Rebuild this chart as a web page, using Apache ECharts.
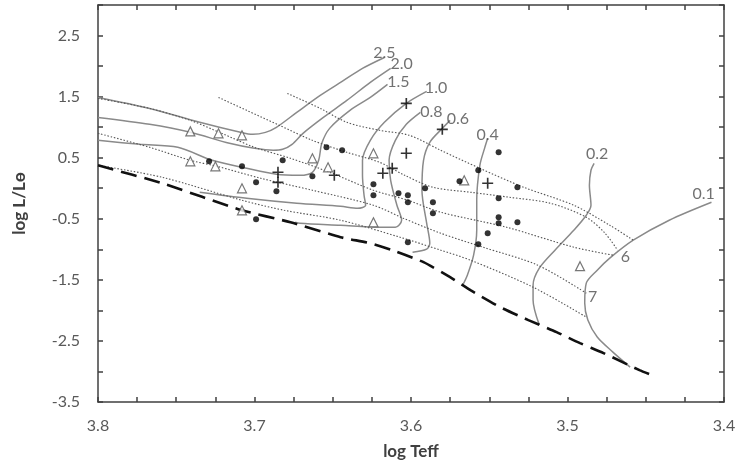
<!DOCTYPE html>
<html><head><meta charset="utf-8">
<script src="https://cdn.jsdelivr.net/npm/echarts@6/dist/echarts.min.js"></script>
<style>html,body{margin:0;padding:0;background:#fff}#c{width:739px;height:465px}</style>
</head><body><div id="c"></div>
<script>
// ---- Evolutionary tracks [log Teff, log L/Lsun] ----
const track25 = [[3.800,1.487],[3.767,1.307],[3.735,1.079],[3.709,0.915],[3.701,0.882],[3.693,0.915],[3.686,0.997],[3.673,1.242],[3.658,1.520],[3.644,1.749],[3.631,1.962],[3.617,2.141]];
const track20 = [[3.800,1.160],[3.767,1.046],[3.741,0.915],[3.716,0.735],[3.700,0.653],[3.688,0.621],[3.682,0.637],[3.676,0.719],[3.669,0.899],[3.656,1.160],[3.641,1.438],[3.626,1.733],[3.613,1.962]];
const track15 = [[3.800,0.784],[3.773,0.719],[3.749,0.670],[3.727,0.457],[3.705,0.326],[3.686,0.228],[3.671,0.212],[3.663,0.261],[3.659,0.457],[3.657,0.735],[3.652,0.980],[3.639,1.275],[3.626,1.487],[3.615,1.700]];
const track10 = [[3.735,-0.066],[3.705,-0.164],[3.673,-0.246],[3.645,-0.295],[3.634,-0.328],[3.629,-0.279],[3.630,-0.115],[3.631,0.212],[3.631,0.457],[3.626,0.784],[3.617,1.079],[3.603,1.389],[3.590,1.585]];
const track08 = [[3.674,-0.557],[3.671,-0.573],[3.645,-0.606],[3.620,-0.638],[3.610,-0.638],[3.606,-0.524],[3.609,-0.279],[3.613,0.130],[3.614,0.457],[3.610,0.784],[3.603,1.046],[3.594,1.242]];
const track06 = [[3.599,-1.047],[3.590,-0.998],[3.588,-0.900],[3.590,-0.573],[3.593,-0.033],[3.592,0.457],[3.588,0.751],[3.580,0.980],[3.575,1.111]];
const track04 = [[3.567,-1.587],[3.564,-1.423],[3.560,-1.096],[3.558,-0.688],[3.558,-0.197],[3.556,0.375],[3.553,0.653],[3.551,0.817]];
const track02 = [[3.518,-2.241],[3.522,-1.832],[3.522,-1.587],[3.518,-1.309],[3.508,-1.014],[3.496,-0.688],[3.488,-0.442],[3.485,-0.279],[3.486,0.048],[3.485,0.294],[3.483,0.408]];
const track01 = [[3.460,-2.928],[3.471,-2.683],[3.481,-2.437],[3.487,-2.159],[3.489,-1.881],[3.488,-1.554],[3.481,-1.342],[3.473,-1.145],[3.458,-0.851],[3.435,-0.524],[3.408,-0.230]];

// ---- ZAMS ----
const zams = [[3.800,0.375],[3.759,0.081],[3.708,-0.361],[3.677,-0.557],[3.645,-0.802],[3.626,-0.900],[3.612,-1.014],[3.592,-1.211],[3.575,-1.456],[3.562,-1.669],[3.543,-1.947],[3.525,-2.159],[3.507,-2.356],[3.492,-2.536],[3.477,-2.699],[3.454,-2.978],[3.446,-3.060]];

// ---- Isochrones ----
const isoA = [[3.679,1.553],[3.658,1.307],[3.641,1.079],[3.620,0.948],[3.601,0.866],[3.581,0.621],[3.556,0.326],[3.528,0.016],[3.496,-0.279],[3.473,-0.606],[3.458,-0.851]];
const isoB = [[3.723,1.487],[3.705,1.275],[3.684,1.029],[3.663,0.784],[3.641,0.588],[3.620,0.424],[3.604,0.212],[3.586,0.016],[3.562,-0.066],[3.537,-0.148],[3.511,-0.246],[3.488,-0.475],[3.476,-0.737],[3.468,-1.014]];
const isoC = [[3.800,1.471],[3.767,1.307],[3.741,1.111],[3.721,0.899],[3.700,0.670],[3.677,0.490],[3.652,0.261],[3.624,-0.033],[3.602,-0.197],[3.581,-0.393],[3.539,-0.638],[3.496,-0.965],[3.471,-1.096]];
const isoD = [[3.800,0.899],[3.767,0.670],[3.741,0.457],[3.724,0.359],[3.696,0.163],[3.663,-0.033],[3.624,-0.279],[3.605,-0.491],[3.581,-0.737],[3.554,-0.965],[3.519,-1.260],[3.488,-1.718]];
const isoE = [[3.800,0.375],[3.759,0.179],[3.708,-0.197],[3.681,-0.361],[3.645,-0.524],[3.607,-0.802],[3.581,-1.014],[3.562,-1.178],[3.522,-1.620],[3.488,-2.110]];

// ---- Stars ----
const starsDot = [[3.729,0.441],[3.708,0.359],[3.699,0.097],[3.699,-0.508],[3.686,-0.050],[3.682,0.457],[3.663,0.196],[3.654,0.670],[3.644,0.621],[3.624,0.065],[3.624,-0.115],[3.608,-0.082],[3.602,-0.115],[3.602,-0.230],[3.602,-0.884],[3.591,-0.001],[3.586,-0.230],[3.586,-0.410],[3.569,0.114],[3.557,0.294],[3.557,-0.916],[3.551,-0.737],[3.544,0.588],[3.544,-0.164],[3.544,-0.475],[3.544,-0.573],[3.532,0.016],[3.532,-0.557]];
const starsTri = [[3.741,0.931],[3.723,0.899],[3.708,0.866],[3.741,0.441],[3.725,0.359],[3.708,-0.001],[3.708,-0.361],[3.663,0.490],[3.653,0.343],[3.624,0.572],[3.624,-0.557],[3.566,0.130],[3.492,-1.276]];
const starsPlus = [[3.685,0.261],[3.685,0.097],[3.649,0.212],[3.618,0.245],[3.612,0.326],[3.603,1.389],[3.603,0.572],[3.580,0.964],[3.551,0.081]];

// ---- Annotations ----
const annoText = ['2.5','2.0','1.5','1.0','0.8','0.6','0.4','0.2','0.1','6','7'];
const annoPos = [[3.617,2.223],[3.606,2.043],[3.608,1.749],[3.584,1.651],[3.587,1.258],[3.570,1.128],[3.551,0.882],[3.481,0.555],[3.413,-0.099],[3.463,-1.129],[3.484,-1.783]];

// ---- Axes ----
const xTickLabels = ['3.4','3.5','3.6','3.7','3.8'];
const yTickLabels = ['-3.5','-2.5','-1.5','-0.5','0.5','1.5','2.5'];

const FONT = 'Lato, "Open Sans", sans-serif';
const AX = '#404040';
const chart = echarts.init(document.getElementById('c'));

function lineSeries(data, kind){
  const s = {type:'line', data:data, symbol:'none', silent:true, animation:false, z:2};
  if(kind==='track'){ s.smooth=0.3; s.lineStyle={color:'#8a8a8a', width:1.5}; }
  if(kind==='iso'){ s.smooth=0.3; s.lineStyle={color:'#555', width:1.1, type:[1.5,1.8]}; }
  if(kind==='zams'){ s.smooth=0.2; s.z=3; s.lineStyle={color:'#111', width:2.6, type:[16,8]}; }
  return s;
}

const xBase = {type:'value', min:3.4, max:3.8, interval:0.025, inverse:true,
  splitLine:{show:false},
  axisLine:{show:true, onZero:false, lineStyle:{color:AX, width:1.5}},
  axisTick:{show:true, inside:true, length:5, lineStyle:{color:AX, width:1.5}}};
const yBase = {type:'value', min:-3.5, max:3, interval:0.5,
  splitLine:{show:false},
  axisLine:{show:true, onZero:false, lineStyle:{color:AX, width:1.5}},
  axisTick:{show:true, inside:true, length:5, lineStyle:{color:AX, width:1.5}}};

chart.setOption({
  animation:false,
  backgroundColor:'#fff',
  grid:{left:98, right:15, top:5, bottom:63, containLabel:false},
  xAxis:[
    Object.assign({}, xBase, {position:'bottom',
      name:'log Teff', nameLocation:'middle', nameGap:41,
      nameTextStyle:{fontFamily:FONT, fontSize:17, fontWeight:'bold', color:'#404040'},
      axisLabel:{margin:16, color:'#595959', fontFamily:FONT, fontSize:16,
        formatter:function(v){ const k=Math.round(v*40); if(k%4!==0) return ''; const s=(k/40).toFixed(1); return xTickLabels.indexOf(s)>=0?s:''; }}}),
    Object.assign({}, xBase, {position:'top', axisLabel:{show:false}})
  ],
  yAxis:[
    Object.assign({}, yBase, {position:'left',
      name:'log L/Lɵ', nameLocation:'middle', nameGap:70, nameRotate:90,
      nameTextStyle:{fontFamily:FONT, fontSize:17, fontWeight:'bold', color:'#404040'},
      axisLabel:{margin:18, color:'#595959', fontFamily:FONT, fontSize:16,
        formatter:function(v){ const k=Math.round(v*2); if(Math.abs(k)%2!==1) return ''; const s=(k/2).toFixed(1); return yTickLabels.indexOf(s)>=0?s:''; }}}),
    Object.assign({}, yBase, {position:'right', axisLabel:{show:false}})
  ],
  series:[
    lineSeries(track25,'track'), lineSeries(track20,'track'), lineSeries(track15,'track'),
    lineSeries(track10,'track'), lineSeries(track08,'track'), lineSeries(track06,'track'),
    lineSeries(track04,'track'), lineSeries(track02,'track'), lineSeries(track01,'track'),
    lineSeries(isoA,'iso'), lineSeries(isoB,'iso'), lineSeries(isoC,'iso'),
    lineSeries(isoD,'iso'), lineSeries(isoE,'iso'),
    lineSeries(zams,'zams'),
    {type:'scatter', data:starsTri, symbol:'triangle', symbolSize:9, z:5, silent:true,
      itemStyle:{color:'#fff', borderColor:'#555', borderWidth:1.2}},
    {type:'scatter', data:starsDot, symbol:'circle', symbolSize:6, z:6, silent:true,
      itemStyle:{color:'#000'}},
    {type:'scatter', data:starsPlus, symbol:'path://M4.25,0H5.75V10H4.25Z M0,4.25H10V5.75H0Z', symbolSize:11, z:6, silent:true,
      itemStyle:{color:'#000'}},
    {type:'scatter', symbolSize:0, z:7, silent:true,
      data:annoPos.map(function(p,i){ return {value:p, name:annoText[i]}; }),
      label:{show:true, position:'inside', formatter:'{b}', color:'#4d4d4d', fontFamily:FONT, fontSize:16}}
  ]
});
</script>
</body></html>
